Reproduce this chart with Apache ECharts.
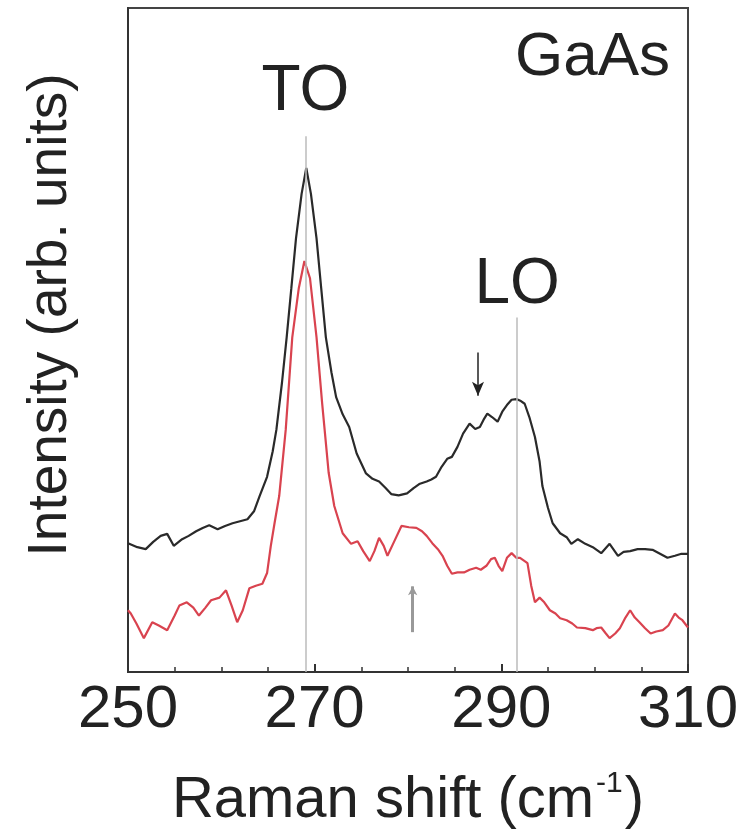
<!DOCTYPE html>
<html>
<head>
<meta charset="utf-8">
<title>GaAs Raman</title>
<script src="https://cdn.jsdelivr.net/npm/echarts@6/dist/echarts.min.js"></script>
<style>
  html, body { margin: 0; padding: 0; background: #fff; }
  #chart { width: 755px; height: 835px; }
</style>
</head>
<body>
<div id="chart"></div>
<script>
// Raman shift (cm-1) and intensity (arb. units)
const blackShift = [250.0, 251.0, 251.9, 252.7, 253.5, 254.2, 254.9, 255.8, 256.5, 257.3, 258.0, 258.7, 259.6, 260.4, 261.2, 262.0, 262.8, 263.5, 264.1, 264.9, 265.5, 265.9, 266.5, 267.0, 267.5, 268.0, 268.6, 269.1, 269.6, 270.2, 270.7, 271.2, 271.8, 272.3, 273.0, 273.7, 274.5, 275.5, 276.2, 276.9, 277.6, 278.2, 279.0, 279.9, 280.6, 281.2, 282.0, 282.5, 283.0, 283.6, 284.2, 284.7, 285.3, 285.9, 286.6, 287.2, 287.7, 288.1, 288.5, 289.0, 289.6, 290.1, 290.6, 291.1, 291.6, 292.1, 292.5, 293.0, 293.6, 294.1, 294.4, 295.0, 295.5, 296.3, 297.0, 297.5, 298.2, 299.0, 299.8, 300.7, 301.6, 302.5, 303.1, 303.8, 304.6, 305.4, 306.2, 307.0, 307.8, 308.6, 309.3, 310.0];
const blackIntensity = [19.4, 18.8, 18.5, 19.6, 20.5, 20.8, 19.0, 20.0, 20.5, 21.2, 21.7, 22.1, 21.5, 22.0, 22.4, 22.7, 23.0, 24.2, 26.5, 29.4, 33.2, 36.5, 43.6, 50.4, 57.8, 65.3, 72.0, 75.9, 72.0, 65.3, 57.8, 50.4, 45.1, 41.4, 38.8, 36.9, 32.9, 29.9, 29.1, 28.7, 27.7, 26.8, 26.6, 26.9, 27.7, 28.3, 28.7, 29.0, 29.4, 30.9, 32.1, 32.4, 33.9, 35.9, 37.4, 36.6, 36.9, 38.0, 38.9, 38.4, 37.7, 39.2, 40.2, 41.0, 41.1, 40.8, 40.4, 38.4, 35.4, 31.7, 28.0, 24.7, 22.4, 20.9, 20.3, 19.3, 20.0, 19.3, 18.8, 17.9, 19.3, 17.5, 18.1, 18.2, 18.5, 18.5, 18.4, 17.8, 17.2, 17.5, 17.8, 17.8];

const redShift = [250.0, 250.3, 250.9, 251.7, 252.6, 253.3, 254.2, 255.0, 255.5, 256.3, 257.0, 257.6, 258.3, 258.9, 259.8, 260.5, 261.1, 261.7, 262.3, 263.0, 263.7, 264.4, 264.9, 265.3, 265.7, 266.2, 266.9, 267.6, 268.3, 268.9, 269.5, 270.2, 270.8, 271.2, 271.5, 272.1, 273.0, 273.9, 274.6, 275.2, 275.9, 276.4, 276.9, 277.4, 277.8, 278.5, 279.3, 280.1, 280.9, 281.5, 282.0, 282.6, 283.2, 283.7, 284.2, 284.7, 285.3, 286.0, 286.6, 287.3, 287.8, 288.4, 288.9, 289.3, 289.7, 290.1, 290.6, 291.1, 291.6, 292.0, 292.5, 292.8, 293.2, 293.6, 294.1, 294.6, 295.2, 295.8, 296.3, 297.0, 297.6, 298.1, 299.0, 299.8, 300.2, 300.7, 301.2, 301.6, 302.2, 302.7, 303.3, 303.8, 304.3, 304.8, 305.4, 306.0, 306.6, 307.3, 307.9, 308.6, 309.0, 309.4, 310.0];
const redIntensity = [9.3, 8.8, 7.3, 5.1, 7.5, 7.0, 6.3, 8.5, 10.0, 10.5, 9.7, 8.5, 9.7, 10.8, 11.2, 12.3, 10.0, 7.5, 9.3, 12.6, 13.0, 13.3, 14.9, 19.0, 22.4, 26.5, 36.5, 50.4, 57.8, 61.9, 59.3, 50.4, 40.5, 34.5, 30.0, 25.0, 20.9, 19.3, 19.7, 18.2, 16.7, 18.2, 20.2, 19.0, 17.5, 19.6, 22.0, 21.8, 21.7, 21.2, 20.5, 19.4, 18.5, 17.5, 16.0, 14.8, 15.0, 15.0, 15.4, 15.7, 15.4, 16.0, 17.0, 17.2, 16.0, 15.2, 17.2, 17.9, 17.2, 17.2, 16.7, 16.4, 13.0, 10.5, 11.2, 10.5, 9.3, 8.8, 8.1, 7.8, 7.3, 6.7, 6.6, 6.3, 6.6, 6.7, 5.8, 5.1, 5.8, 6.6, 8.2, 9.3, 8.2, 7.5, 6.6, 5.8, 6.1, 6.3, 7.0, 8.8, 8.2, 7.8, 6.7];

// phonon modes: [label, shift, top of guide line, label gap]
const modeLines = [['TO', 269.0, 80.7, 12], ['LO', 291.7, 53.4, 0]];
// arrows: [shift, tail intensity, head intensity]
const blackArrow = [287.5, 48.1, 41.6];
const grayArrow = [280.5, 6.0, 12.9];

const xTicks = [250, 270, 290, 310];

const FONT = '"Liberation Sans", Arial, sans-serif';

const chart = echarts.init(document.getElementById('chart'));

const pairs = (xs, ys) => xs.map((x, i) => [x, ys[i]]);

chart.setOption({
  animation: false,
  grid: {
    left: 128, right: 67, top: 8, bottom: 158,
    show: true, borderColor: '#444', borderWidth: 2
  },
  xAxis: {
    type: 'value',
    min: xTicks[0],
    max: xTicks[xTicks.length - 1],
    interval: 20,
    axisLine: { lineStyle: { color: '#333', width: 2 } },
    axisTick: { inside: true, length: 8, lineStyle: { color: '#333', width: 2 } },
    minorTick: { show: true, splitNumber: 4, length: 5, lineStyle: { color: '#333', width: 1.5 } },
    splitLine: { show: false },
    axisLabel: { color: '#222', fontSize: 60, fontFamily: FONT, margin: 8 },
    name: '{n|Raman shift (cm}{s|-1}{n|)}',
    nameLocation: 'middle',
    nameGap: 97,
    nameTextStyle: {
      rich: {
        n: { fontSize: 58, fontFamily: FONT, color: '#222', lineHeight: 64 },
        s: { fontSize: 30, fontFamily: FONT, color: '#222', lineHeight: 64, verticalAlign: 'top', padding: [0, 2, 30, 2] }
      }
    }
  },
  yAxis: {
    type: 'value',
    min: 0,
    max: 100,
    axisLine: { show: true, lineStyle: { color: '#333', width: 2 } },
    axisTick: { show: false },
    axisLabel: { show: false },
    splitLine: { show: false },
    name: 'Intensity (arb. units)',
    nameLocation: 'middle',
    nameGap: 50,
    nameTextStyle: { fontSize: 55, fontFamily: FONT, color: '#222', padding: [0, 0, 0, 50] }
  },
  graphic: [{
    type: 'text',
    right: 85,
    top: 27,
    style: { text: 'GaAs', fontSize: 62, fontFamily: FONT, fill: '#222' }
  }],
  series: [
    {
      type: 'line',
      name: 'black',
      data: pairs(blackShift, blackIntensity),
      showSymbol: false,
      lineStyle: { color: '#2a2a2a', width: 2.2 },
      z: 3,
      markLine: {
        silent: true,
        symbol: ['none', 'none'],
        lineStyle: { color: '#bbb', width: 1.5, type: 'solid' },
        label: { show: true, position: 'start', color: '#222', fontSize: 64, fontFamily: FONT },
        data: modeLines.map(m => [
          { coord: [m[1], m[2]], label: { formatter: m[0], distance: m[3] } },
          { coord: [m[1], 0] }
        ]).concat([[
          { coord: [blackArrow[0], blackArrow[1]], lineStyle: { color: '#222', width: 1.5 }, label: { show: false } },
          { coord: [blackArrow[0], blackArrow[2]], symbol: 'arrow', symbolSize: [9, 14] }
        ], [
          { coord: [grayArrow[0], grayArrow[1]], lineStyle: { color: '#999', width: 3 }, label: { show: false } },
          { coord: [grayArrow[0], grayArrow[2]], symbol: 'arrow', symbolSize: [7, 9] }
        ]])
      }
    },
    {
      type: 'line',
      name: 'red',
      data: pairs(redShift, redIntensity),
      showSymbol: false,
      lineStyle: { color: '#d9434f', width: 2.2 },
      z: 2
    }
  ]
});
</script>
</body>
</html>
